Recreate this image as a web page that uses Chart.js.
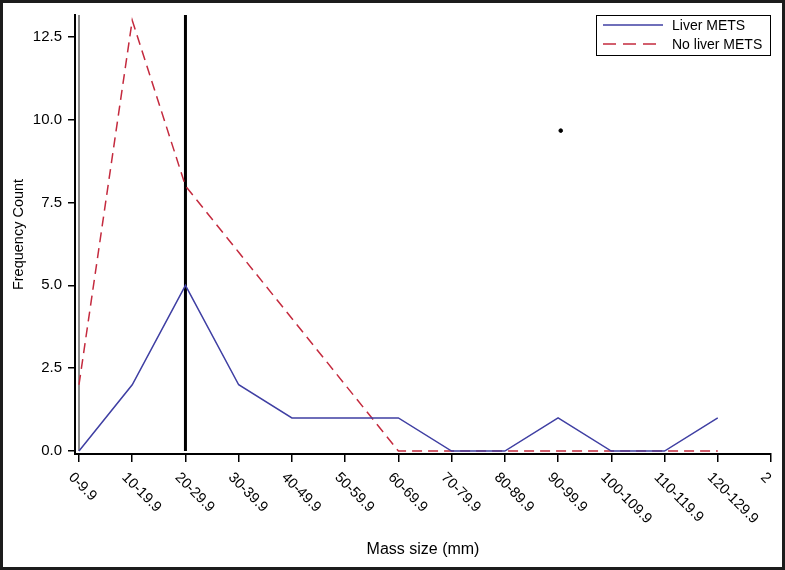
<!DOCTYPE html>
<html>
<head>
<meta charset="utf-8">
<script src="https://cdn.jsdelivr.net/npm/chart.js@4.4.0/dist/chart.umd.min.js"></script>
<style>
    body { margin: 0; background: #fff; }
    #wrap { position: relative; width: 785px; height: 570px; }
</style>
</head>
<body>
<div id="wrap"><canvas id="graph" width="785" height="570"></canvas></div>
<script>
const categories = ['0-9.9', '10-19.9', '20-29.9', '30-39.9', '40-49.9', '50-59.9', '60-69.9',
    '70-79.9', '80-89.9', '90-99.9', '100-109.9', '110-119.9', '120-129.9', '2']
const liver_mets = [0, 2, 5, 2, 1, 1, 1, 0, 0, 1, 0, 0, 1]
const no_liver_mets = [2, 13, 8, 6, 4, 2, 0, 0, 0, 0, 0, 0, 0]
const y_ticks = [0, 2.5, 5, 7.5, 10, 12.5]
const marker_index = 2
const stray_x = [9.05]
const stray_y = [9.67]

const police = 'Liberation Sans, Arial, sans-serif'

const to_points = (values) => values.map((v, i) => ({ x: i, y: v }))

const lignes = {
    id: 'lignes',
    beforeDatasetsDraw(chart) {
        const ctx = chart.ctx
        const x = chart.scales.x
        const y = chart.scales.y
        const top = chart.chartArea.top
        const bas = y.getPixelForValue(0)
        ctx.save()
        ctx.strokeStyle = '#8c8c8c'
        ctx.lineWidth = 2
        ctx.beginPath()
        ctx.moveTo(x.getPixelForValue(0), top)
        ctx.lineTo(x.getPixelForValue(0), bas)
        ctx.stroke()
        ctx.strokeStyle = '#000'
        ctx.lineWidth = 3
        ctx.beginPath()
        ctx.moveTo(x.getPixelForValue(marker_index), top)
        ctx.lineTo(x.getPixelForValue(marker_index), bas)
        ctx.stroke()
        ctx.restore()
    }
}

const etiquettes = {
    id: 'etiquettes',
    afterDraw(chart) {
        const ctx = chart.ctx
        const x = chart.scales.x
        const bas = chart.chartArea.bottom
        ctx.save()
        ctx.fillStyle = '#000'
        ctx.font = '14.5px ' + police
        ctx.textAlign = 'left'
        ctx.textBaseline = 'alphabetic'
        categories.forEach((label, i) => {
            ctx.save()
            ctx.translate(x.getPixelForValue(i) - 11, bas + 24)
            ctx.rotate(Math.PI / 4)
            ctx.fillText(label, 0, 0)
            ctx.restore()
        })

        // légende
        const gauche = 596, haut = 15
        ctx.strokeStyle = '#000'
        ctx.lineWidth = 1
        ctx.strokeRect(gauche + 0.5, haut + 0.5, 174, 40)
        ctx.font = '14px ' + police
        ctx.textBaseline = 'middle'
        let ligne = 0
        chart.data.datasets.forEach((ds) => {
            if (!ds.label) return
            const yy = haut + 10 + ligne * 19
            ctx.strokeStyle = ds.borderColor
            ctx.lineWidth = 1.5
            ctx.setLineDash(ds.borderDash ? [13, 7] : [])
            ctx.beginPath()
            ctx.moveTo(gauche + 7, yy)
            ctx.lineTo(gauche + 67, yy)
            ctx.stroke()
            ctx.setLineDash([])
            ctx.fillText(ds.label, gauche + 76, yy + 1)
            ligne++
        })

        ctx.strokeStyle = '#1c1c1c'
        ctx.lineWidth = 3
        ctx.strokeRect(1.5, 1.5, chart.width - 3, chart.height - 3)
        ctx.restore()
    }
}

const ctx = document.getElementById('graph').getContext('2d')
const myChart = new Chart(ctx, {
    type: 'line',
    data: {
        datasets: [{
            label: 'Liver METS',
            data: to_points(liver_mets),
            borderColor: '#3f3fa3',
            borderWidth: 1.5,
            pointRadius: 0,
            tension: 0
        },
        {
            label: 'No liver METS',
            data: to_points(no_liver_mets),
            borderColor: '#c42a3e',
            borderDash: [10, 6],
            borderWidth: 1.5,
            pointRadius: 0,
            tension: 0
        },
        {
            type: 'scatter',
            data: stray_x.map((v, i) => ({ x: v, y: stray_y[i] })),
            backgroundColor: '#000',
            borderColor: '#000',
            pointRadius: 1.8
        }]
    },
    options: {
        responsive: false,
        animation: false,
        layout: {
            padding: { top: 10, right: 14, left: 0, bottom: 0 }
        },
        plugins: {
            legend: { display: false },
            tooltip: { enabled: false }
        },
        scales: {
            x: {
                type: 'linear',
                min: -0.075,
                max: categories.length - 1,
                afterFit: (scale) => { scale.height = 116 },
                ticks: {
                    display: false,
                    stepSize: 1,
                    includeBounds: false
                },
                grid: {
                    drawOnChartArea: false,
                    color: '#000',
                    tickLength: 8,
                    lineWidth: 1.5
                },
                border: { color: '#000', width: 2 },
                title: {
                    display: true,
                    text: 'Mass size (mm)',
                    color: '#000',
                    font: { family: police, size: 16 },
                    padding: { top: 0, bottom: 11 }
                }
            },
            y: {
                min: -0.09,
                max: 13.16,
                afterFit: (scale) => { scale.width = 75 },
                afterBuildTicks: (scale) => { scale.ticks = y_ticks.map(v => ({ value: v })) },
                ticks: {
                    color: '#000',
                    padding: 6,
                    font: { family: police, size: 15 },
                    callback: (v) => v.toFixed(1)
                },
                grid: {
                    drawOnChartArea: false,
                    color: '#000',
                    tickLength: 7,
                    lineWidth: 1.5
                },
                border: { color: '#000', width: 2 },
                title: {
                    display: true,
                    text: 'Frequency Count',
                    color: '#000',
                    font: { family: police, size: 14.5 },
                    padding: { top: 10, bottom: 0 }
                }
            }
        }
    },
    plugins: [lignes, etiquettes]
})
</script>
</body>
</html>
